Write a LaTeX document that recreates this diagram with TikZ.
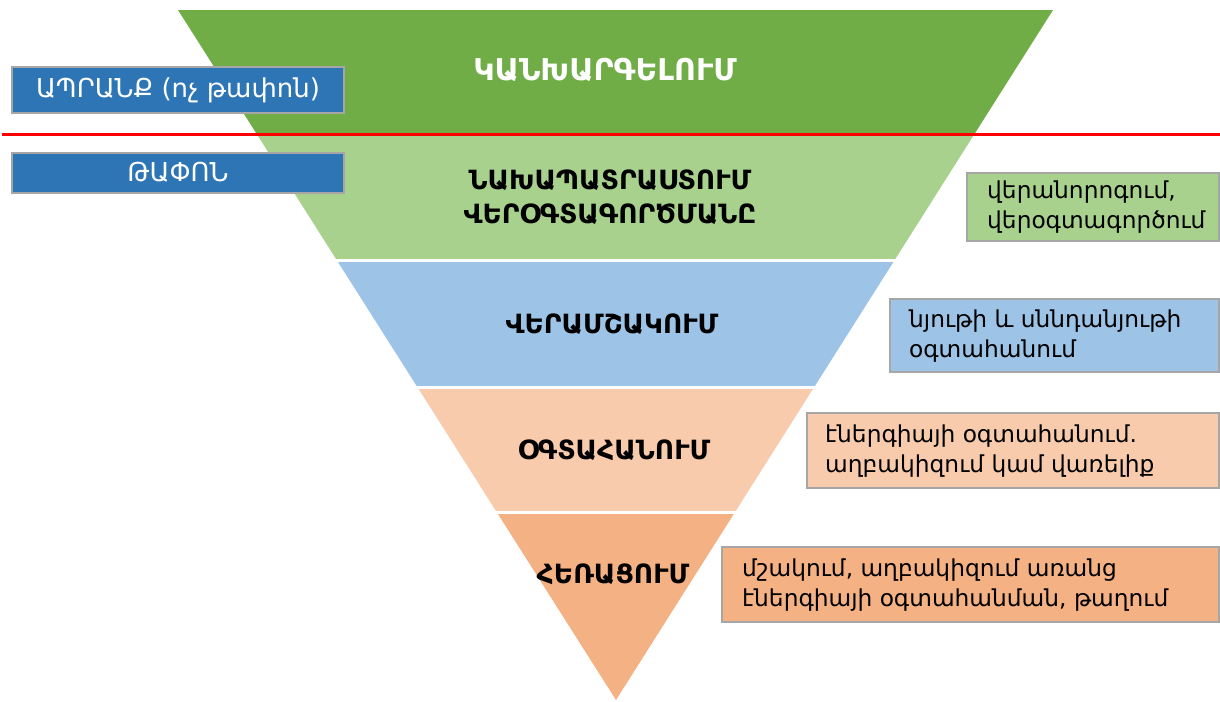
\documentclass[tikz,border=0pt]{standalone}
\usepackage{fontspec}
\setmainfont{DejaVu Sans}
\definecolor{dgreen}{HTML}{70AD47}
\definecolor{lgreen}{HTML}{A9D18E}
\definecolor{lblue}{HTML}{9DC3E6}
\definecolor{lpeach}{HTML}{F8CBAD}
\definecolor{dpeach}{HTML}{F4B183}
\definecolor{boxblue}{HTML}{2E75B6}
\definecolor{boxgray}{HTML}{A6A6A6}
\begin{document}
\begin{tikzpicture}[x=1pt,y=-1pt,
  bandlabel/.style={font=\fontsize{26.5}{34}\selectfont\bfseries, align=center, text=black},
  sidebox/.style={draw=boxgray, line width=2.5pt},
  sidetext/.style={anchor=west, font=\fontsize{23.3}{30}\selectfont, align=left, inner sep=0pt},
  leftbox/.style={draw=boxgray, fill=boxblue, line width=2.5pt},
  lefttext/.style={text=white, font=\fontsize{26}{30}\selectfont}]
\useasboundingbox (0,0) rectangle (1220,701);
\coordinate (A) at (178,10);
\coordinate (B) at (1053,10);
\coordinate (C) at (616,700);
\begin{scope}
  \clip (A) -- (B) -- (C) -- cycle;
  \fill[dgreen] (0,10) rectangle (1220,134);
  \fill[lgreen] (0,134) rectangle (1220,259);
  \fill[lblue] (0,262) rectangle (1220,386);
  \fill[lpeach] (0,389) rectangle (1220,511);
  \fill[dpeach] (0,514) rectangle (1220,701);
\end{scope}
% red line
\coordinate (rl) at (2,134);
\coordinate (rr) at (1220,134);
\draw[red, line width=3pt] (rl) -- (rr);
% band labels
\node[bandlabel, text=white, font=\fontsize{30}{34}\selectfont\bfseries] (t1) at (605,70) {ԿԱՆԽԱՐԳԵԼՈՒՄ};
\node[bandlabel] (t2) at (610,197) {ՆԱԽԱՊԱՏՐԱՍՏՈՒՄ\\ՎԵՐՕԳՏԱԳՈՐԾՄԱՆԸ};
\node[bandlabel] (t3) at (612,324) {ՎԵՐԱՄՇԱԿՈՒՄ};
\node[bandlabel] (t4) at (614,450) {ՕԳՏԱՀԱՆՈՒՄ};
\node[bandlabel] (t5) at (613,574) {ՀԵՌԱՑՈՒՄ};
% left boxes
\draw[leftbox] (12,67) rectangle (344,113);
\node[lefttext] (l1) at (178,90) {ԱՊՐԱՆՔ (ոչ թափոն)};
\draw[leftbox] (12,153) rectangle (344,193);
\node[lefttext] (l2) at (178,172) {ԹԱՓՈՆ};
% right boxes
\draw[sidebox, fill=lgreen] (967,173) rectangle (1219,241);
\node[sidetext] (r1) at (987,207) {վերանորոգում,\\վերօգտագործում};
\draw[sidebox, fill=lblue] (890,299) rectangle (1219,372);
\node[sidetext] (r2) at (909,336) {նյութի և սննդանյութի\\օգտահանում};
\draw[sidebox, fill=lpeach] (807,413) rectangle (1219,488);
\node[sidetext] (r3) at (825,451) {էներգիայի օգտահանում.\\աղբակիզում կամ վառելիք};
\draw[sidebox, fill=dpeach] (722,547) rectangle (1219,622);
\node[sidetext] (r4) at (742,585) {մշակում, աղբակիզում առանց\\էներգիայի օգտահանման, թաղում};
\end{tikzpicture}
\end{document}
